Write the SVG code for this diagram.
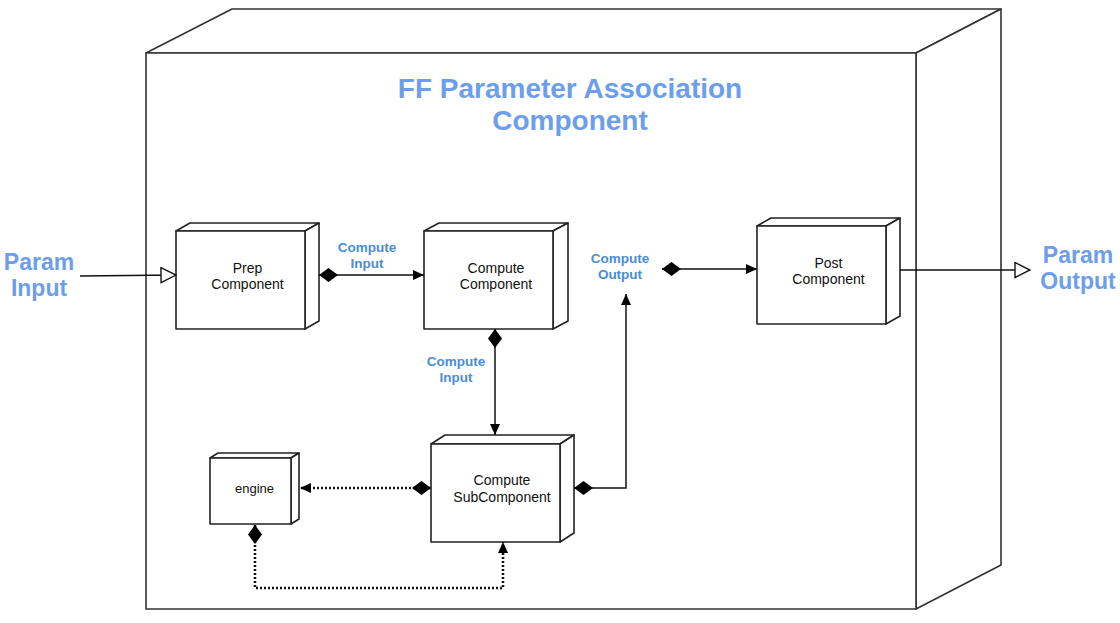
<svg xmlns="http://www.w3.org/2000/svg" width="1120" height="623" viewBox="0 0 1120 623">
<style>
.box{fill:#fff;stroke:#222;stroke-width:1.6;stroke-linejoin:round}
.outer{fill:#fff;stroke:#333;stroke-width:1.6;stroke-linejoin:round}
.nt{font-family:"Liberation Sans",Arial,sans-serif;font-size:14px;fill:#111;text-anchor:middle}
.title{font-family:"Liberation Sans",Arial,sans-serif;font-size:28px;font-weight:bold;fill:#6d9eeb;text-anchor:middle}
.port{font-family:"Liberation Sans",Arial,sans-serif;font-size:23px;font-weight:bold;fill:#6d9eeb;text-anchor:middle}
.lbl{font-family:"Liberation Sans",Arial,sans-serif;font-size:13.5px;font-weight:bold;fill:#4a8cd6;text-anchor:middle}
.solid{fill:none;stroke:#111;stroke-width:1.5}
.dot{fill:none;stroke:#111;stroke-width:2.6;stroke-dasharray:2 2}
</style>
<defs>
<marker id="dia" viewBox="0 0 19 14" refX="0" refY="7" markerWidth="19" markerHeight="14" markerUnits="userSpaceOnUse" orient="auto"><path d="M0,7 L9.5,0 L19,7 L9.5,14 Z" fill="#000"/></marker>
<marker id="arr" viewBox="0 0 11 10" refX="11" refY="5" markerWidth="11" markerHeight="10" markerUnits="userSpaceOnUse" orient="auto"><path d="M0,0 L11,5 L0,10 Z" fill="#000"/></marker>
<marker id="hol" viewBox="0 0 17 17" refX="16" refY="8.5" markerWidth="17" markerHeight="17" markerUnits="userSpaceOnUse" orient="auto"><path d="M1,1 L16,8.5 L1,16 Z" fill="#fff" stroke="#111" stroke-width="1.4"/></marker>
</defs>

<g id="outer">
<polygon class="outer" points="146,53 232,9 1001,9 916,53"/>
<polygon class="outer" points="916,53 1001,9 1001,565 916,609"/>
<rect class="outer" x="146" y="53" width="770" height="556"/>
<text class="title" x="570" y="98">FF Parameter Association</text>
<text class="title" x="570" y="130">Component</text>
</g>

<g id="param-input">
<text class="port" x="39" y="270">Param</text>
<text class="port" x="39" y="296">Input</text>
</g>
<g id="param-output">
<text class="port" x="1078" y="263">Param</text>
<text class="port" x="1078" y="289">Output</text>
</g>

<g id="prep">
<polygon class="box" points="176,231 190,223 319,223 305,231"/>
<polygon class="box" points="305,231 319,223 319,321 305,329"/>
<rect class="box" x="176" y="231" width="129" height="98"/>
<text class="nt" x="247.5" y="273">Prep</text>
<text class="nt" x="247.5" y="289">Component</text>
</g>

<g id="compute">
<polygon class="box" points="424,231 439,223 568,223 553,231"/>
<polygon class="box" points="553,231 568,223 568,321 553,329"/>
<rect class="box" x="424" y="231" width="129" height="98"/>
<text class="nt" x="496" y="273">Compute</text>
<text class="nt" x="496" y="289">Component</text>
</g>

<g id="post">
<polygon class="box" points="757,226 771,218 900,218 886,226"/>
<polygon class="box" points="886,226 900,218 900,316 886,324"/>
<rect class="box" x="757" y="226" width="129" height="98"/>
<text class="nt" x="828.5" y="268">Post</text>
<text class="nt" x="828.5" y="284">Component</text>
</g>

<g id="subcomponent">
<polygon class="box" points="431,444 445,435 574,435 560,444"/>
<polygon class="box" points="560,444 574,435 574,533 560,542"/>
<rect class="box" x="431" y="444" width="129" height="98"/>
<text class="nt" x="502" y="485">Compute</text>
<text class="nt" x="502" y="502">SubComponent</text>
</g>

<g id="engine">
<polygon class="box" points="210,458 218,453 299,453 291,458"/>
<polygon class="box" points="291,458 299,453 299,519 291,524"/>
<rect class="box" x="210" y="458" width="81" height="66"/>
<text class="nt" x="254.5" y="493" style="font-size:13px">engine</text>
</g>

<g id="labels">
<text class="lbl" x="367" y="252">Compute</text>
<text class="lbl" x="367" y="268">Input</text>
<text class="lbl" x="456" y="366">Compute</text>
<text class="lbl" x="456" y="382">Input</text>
<text class="lbl" x="620" y="263">Compute</text>
<text class="lbl" x="620" y="279">Output</text>
</g>

<g id="connectors">
<path class="solid" d="M80,276 L176,275" marker-end="url(#hol)"/>
<path class="solid" d="M319,275 L424,275" marker-start="url(#dia)" marker-end="url(#arr)"/>
<path class="solid" d="M495,329 L495,435" marker-start="url(#dia)" marker-end="url(#arr)"/>
<path class="solid" d="M574,488 L626,488 L626,294" marker-start="url(#dia)" marker-end="url(#arr)"/>
<path class="solid" d="M662,269 L757,269" marker-start="url(#dia)" marker-end="url(#arr)"/>
<path class="solid" d="M900,270 L1030,270" marker-end="url(#hol)"/>
<path class="dot" d="M431,488 L300,488" marker-start="url(#dia)" marker-end="url(#arr)"/>
<path class="dot" d="M255,525 L255,588 L503,588 L503,542" marker-start="url(#dia)" marker-end="url(#arr)"/>
</g>
</svg>
